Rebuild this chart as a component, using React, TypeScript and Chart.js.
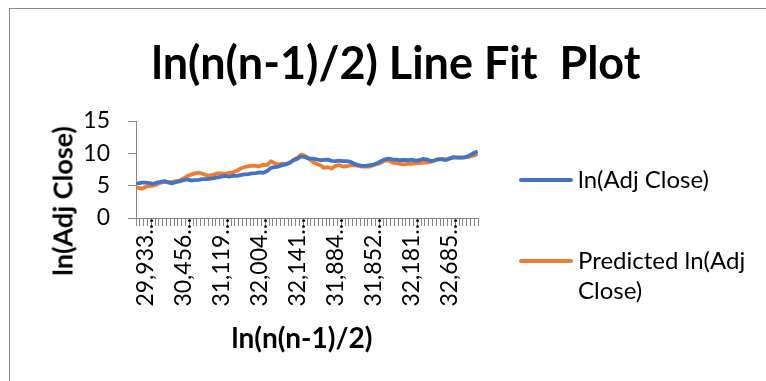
import React, { useEffect, useRef } from "react";
import { Chart, registerables } from "chart.js";

Chart.register(...registerables);

const titleText = "ln(n(n-1)/2) Line Fit  Plot";
const xAxisTitle = "ln(n(n-1)/2)";
const yAxisTitle = "ln(Adj Close)";
const seriesNames = ["ln(Adj Close)", "Predicted ln(Adj Close)"];
const seriesColors = ["#4472C4", "#ED7D31"];

// labelled categories (every 10th, starting at index 2), truncated as in the original
const xTickLabels = ["29,933.…", "30,456.…", "31,119.…", "32,004.…", "32,141.…", "31,884.…", "31,852.…", "32,181.…", "32,685.…"];
const yTicks = [0, 5, 10, 15];

const actual = [
  5.36, 5.46, 5.46, 5.4, 5.3, 5.46, 5.6, 5.7, 5.5, 5.36,
  5.56, 5.66, 5.87, 5.97, 5.8, 5.87, 5.9, 6.0, 6.0, 6.07,
  6.17, 6.3, 6.4, 6.5, 6.4, 6.5, 6.53, 6.63, 6.73, 6.8,
  6.9, 6.94, 7.04, 7.0, 7.24, 7.76, 7.86, 7.96, 8.16, 8.3,
  8.57, 8.93, 9.18, 9.54, 9.39, 9.18, 9.18, 9.08, 8.93, 9.0,
  9.03, 8.83, 8.78, 8.88, 8.78, 8.78, 8.67, 8.37, 8.16, 8.06,
  8.06, 8.16, 8.27, 8.47, 8.78, 9.08, 9.18, 9.08, 9.03, 8.93,
  9.0, 8.93, 9.03, 8.88, 8.93, 9.13, 9.08, 8.83, 8.88, 9.08,
  9.08, 8.98, 9.18, 9.34, 9.34, 9.34, 9.39, 9.6, 9.9, 10.2,
];

const predicted = [
  4.7, 4.54, 4.8, 4.95, 5.0, 5.2, 5.46, 5.6, 5.5, 5.6,
  5.7, 5.8, 6.1, 6.5, 6.7, 6.9, 7.0, 6.84, 6.6, 6.6,
  6.7, 6.9, 6.9, 6.84, 7.0, 7.04, 7.3, 7.65, 7.86, 8.0,
  8.1, 8.06, 8.0, 8.27, 8.16, 8.78, 8.47, 8.27, 8.4, 8.37,
  8.5, 9.03, 9.34, 9.8, 9.6, 9.18, 8.67, 8.37, 8.16, 7.76,
  7.86, 7.65, 8.06, 8.16, 7.96, 8.0, 8.16, 8.16, 8.06, 7.96,
  7.96, 7.96, 8.16, 8.37, 8.57, 8.88, 8.88, 8.57, 8.47, 8.37,
  8.3, 8.37, 8.37, 8.47, 8.47, 8.57, 8.57, 8.67, 8.88, 9.08,
  9.13, 9.03, 9.23, 9.44, 9.39, 9.34, 9.39, 9.44, 9.6, 9.8,
];

const LABEL_START = 2;
const LABEL_STEP = 10;
const categories = actual.map((_, i) =>
  i >= LABEL_START && (i - LABEL_START) % LABEL_STEP === 0 ? xTickLabels[(i - LABEL_START) / LABEL_STEP] ?? "" : ""
);

const FONT = "Lato, 'Open Sans', sans-serif";
const AXIS = "#868686";

export default function App() {
  const ref = useRef<HTMLCanvasElement | null>(null);

  useEffect(() => {
    if (!ref.current) return;
    const chart = new Chart(ref.current, {
      type: "line",
      data: {
        labels: categories,
        datasets: [
          { label: seriesNames[0], data: actual, borderColor: seriesColors[0], backgroundColor: seriesColors[0], borderWidth: 3.8, pointRadius: 0, tension: 0, borderJoinStyle: "round", borderCapStyle: "round" },
          { label: seriesNames[1], data: predicted, borderColor: seriesColors[1], backgroundColor: seriesColors[1], borderWidth: 3.8, pointRadius: 0, tension: 0, borderJoinStyle: "round", borderCapStyle: "round" },
        ],
      },
      options: {
        responsive: false,
        animation: false,
        devicePixelRatio: 1,
        layout: { padding: { left: 0, right: 288, top: 121, bottom: 63 } },
        plugins: { legend: { display: false }, title: { display: false }, tooltip: { enabled: false } },
        scales: {
          x: {
            type: "category",
            offset: true,
            grid: { offset: true, drawOnChartArea: false, tickLength: 8, color: AXIS, lineWidth: 1 },
            border: { color: AXIS, width: 1 },
            ticks: {
              autoSkip: false,
              minRotation: 90,
              maxRotation: 90,
              padding: -14,
              color: "#000",
              font: { family: FONT, size: 23 },
            },
            afterFit: (s: any) => { s.height = 100; },
          },
          y: {
            min: 0,
            max: 15,
            afterBuildTicks: (s: any) => { s.ticks = yTicks.map((v) => ({ value: v })); },
            grid: { drawOnChartArea: false, tickLength: 8, color: AXIS, lineWidth: 1 },
            border: { color: AXIS, width: 1 },
            ticks: { padding: 18, color: "#000", font: { family: FONT, size: 23 } },
            afterFit: (s: any) => { s.width = 136; },
          },
        },
      },
    });
    return () => chart.destroy();
  }, []);

  return (
    <div style={{ position: "fixed", left: 0, top: 0, width: 766, height: 381, background: "#fff", overflow: "hidden", fontFamily: FONT, color: "#000" }}>
      <div style={{ position: "absolute", left: 9, top: 8, width: 800, height: 400, borderLeft: "1px solid #8c8c8c", borderTop: "1px solid #8c8c8c" }} />
      <canvas ref={ref} width={766} height={381} style={{ position: "absolute", left: 0, top: 0, width: 766, height: 381 }} />
      <div style={{ position: "absolute", left: 396, top: 62, transform: "translate(-50%, -50%)", whiteSpace: "pre", fontWeight: 700, fontSize: 45, lineHeight: 1 }}>{titleText}</div>
      <div style={{ position: "absolute", left: 62, top: 201, transform: "translate(-50%, -50%) rotate(-90deg)", whiteSpace: "nowrap", fontWeight: 700, fontSize: 27, lineHeight: 1 }}>{yAxisTitle}</div>
      <div style={{ position: "absolute", left: 302, top: 337, transform: "translate(-50%, -50%)", whiteSpace: "nowrap", fontWeight: 700, fontSize: 28, lineHeight: 1 }}>{xAxisTitle}</div>
      <div style={{ position: "absolute", left: 519, top: 164, width: 240 }}>
        {seriesNames.map((name, i) => (
          <div key={name} style={{ display: "flex", alignItems: "flex-start", marginBottom: 51 }}>
            <div style={{ width: 54, height: 4, background: seriesColors[i], marginTop: 14, marginRight: 5, flex: "none", borderRadius: 2 }} />
            <div style={{ fontSize: 24, lineHeight: "30px", width: 178 }}>{name}</div>
          </div>
        ))}
      </div>
    </div>
  );
}
